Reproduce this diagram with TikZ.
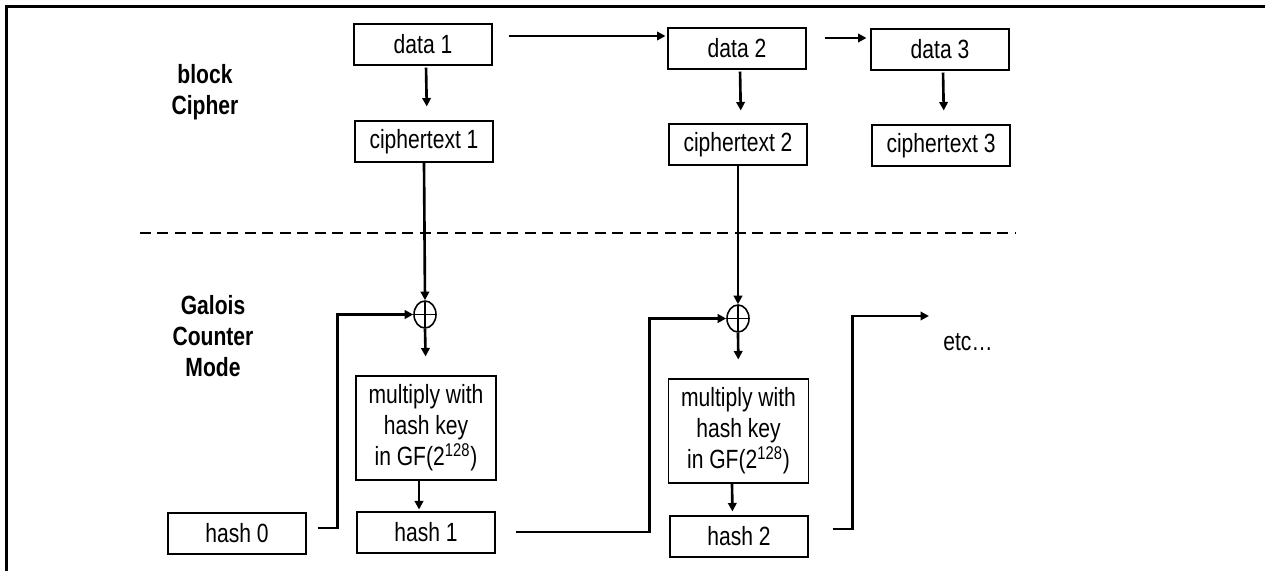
\documentclass[tikz,border=0pt]{standalone}
\usepackage{fontspec}
\setmainfont[FakeStretch=0.8]{Liberation Sans}
\usetikzlibrary{arrows.meta,shapes.geometric}

\begin{document}
\begin{tikzpicture}[x=0.02cm,y=-0.02cm,
  font=\fontsize{15}{17.6}\selectfont,
  box/.style={draw,line width=0.6pt,minimum width=2.76cm,minimum height=0.82cm,inner sep=0pt},
  multbox/.style={box,minimum width=2.8cm,minimum height=2.08cm,align=center},
  xor/.style={draw,ellipse,line width=0.9pt,minimum width=0.44cm,minimum height=0.54cm,inner sep=0pt,
    path picture={\draw[line width=0.9pt] (path picture bounding box.north) -- (path picture bounding box.south)
      (path picture bounding box.west) -- (path picture bounding box.east);}},
  arr/.style={line width=1.5pt,-{Triangle[length=0.17cm,width=0.17cm]}},
  lbl/.style={font=\fontsize{15}{17.6}\selectfont\bfseries,align=center}]
  \useasboundingbox (0,0) rectangle (1265,571);
  \draw[line width=1.4pt] (6.7,571) -- (6.7,6.7) -- (1265,6.7);

  \node[lbl] (blk) at (205,92) {block\\Cipher};
  \node[lbl] (gcm) at (213,336) {Galois\\Counter\\Mode};

  \node[box] (data1) at (423,44.5) {data 1};
  \node[box] (data2) at (737,48.5) {data 2};
  \node[box] (data3) at (940,49.5) {data 3};
  \node[box] (ct1) at (424,141.5) {ciphertext 1};
  \node[box] (ct2) at (738,144.5) {ciphertext 2};
  \node[box] (ct3) at (941,145.5) {ciphertext 3};

  \draw[line width=1.5pt,dash pattern=on 0.22cm off 0.13cm] (140,233) -- (1015,233);

  \node[xor] (xor1) at (425,314.5) {};
  \node[xor] (xor2) at (738,318.5) {};
  \node[multbox] (mult1) at (426,428) {multiply with\\hash key\\in GF(2\textsuperscript{128})};
  \node[multbox] (mult2) at (738.5,431) {multiply with\\hash key\\in GF(2\textsuperscript{128})};
  \node[box] (hash0) at (237,533.5) {hash 0};
  \node[box] (hash1) at (426,532.5) {hash 1};
  \node[box] (hash2) at (739,536.5) {hash 2};
  \node (etc) at (968,342) {etc…};
  \coordinate (next) at (929,316);

  \draw[arr] (data1.east) ++(16,-8.5) -- ++(157,0);
  \draw[arr] (data2.east) ++(18,-10.5) -- ++(42,0);
  \draw[arr,shorten <=0.04cm,shorten >=0.28cm] ([xshift=0.06cm]data1.south) -- ([xshift=0.06cm]ct1.north);
  \draw[arr,shorten <=0.04cm,shorten >=0.26cm] ([xshift=0.06cm]data2.south) -- ([xshift=0.06cm]ct2.north);
  \draw[arr,shorten <=0.04cm,shorten >=0.28cm] ([xshift=0.06cm]data3.south) -- ([xshift=0.06cm]ct3.north);

  \draw[arr] (ct1.south) -- (xor1.north);
  \draw[arr] (ct2.south) -- (xor2.north);
  \draw[arr,shorten >=0.38cm] (xor1.south) -- (mult1.north);
  \draw[arr,shorten >=0.38cm] (xor2.south) -- (mult2.north);
  \draw[arr,shorten >=0.04cm] ([xshift=-0.14cm]mult1.south) -- ([xshift=-0.14cm]hash1.north);
  \draw[arr,shorten >=0.08cm] ([xshift=-0.13cm]mult2.south) -- ([xshift=-0.13cm]hash2.north);

  \draw[arr] (hash0.east) ++(11,-5.5) -- ++(20,0) |- (xor1.west);
  \draw[arr] (hash1.east) ++(20,-0.5) -- ++(134,0) |- (xor2.west);
  \draw[arr] (hash2.east) ++(24,-7.5) -- ++(20,0) |- (next);
\end{tikzpicture}
\end{document}
